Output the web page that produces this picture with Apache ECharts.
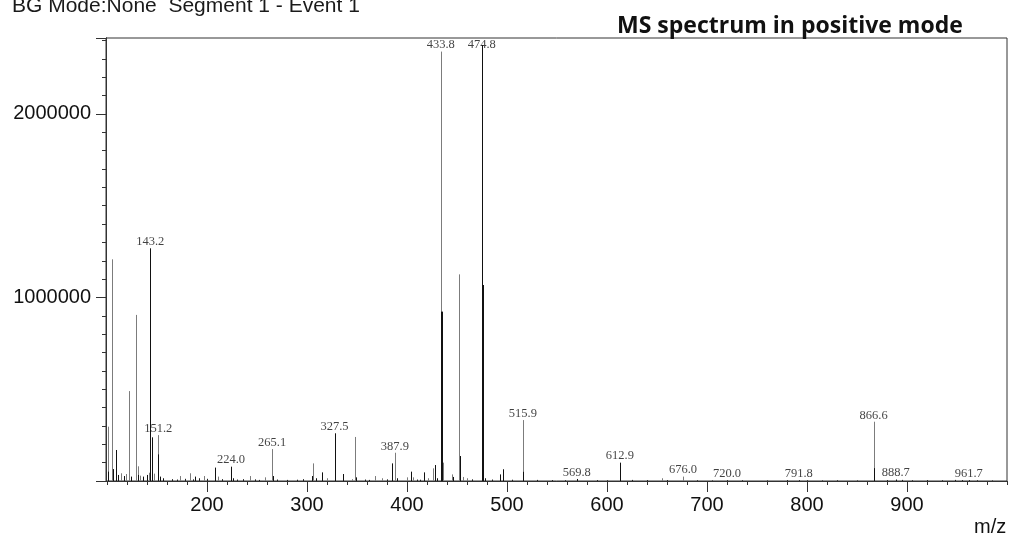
<!DOCTYPE html>
<html>
<head>
<meta charset="utf-8">
<script src="https://cdn.jsdelivr.net/npm/echarts@6/dist/echarts.min.js"></script>
<style>
html,body{margin:0;padding:0;background:#fff;}
#c{width:1013px;height:538px;}
</style>
</head>
<body>
<div id="c"></div>
<script>
// ---- data (m/z, intensity in counts) ----
const greyMz  = [100.7, 104.7, 114.3, 118.7, 122.3, 129.3, 131.3, 133.0, 142.0, 147.3, 150.7, 173.0, 183.0, 197.0, 211.3, 243.0, 258.0, 265.1, 306.3, 319.7, 345.0, 348.0, 368.0, 374.7, 387.9, 399.7, 405.7, 421.3, 426.3, 433.8, 436.3, 444.7, 452.0, 455.7, 459.7, 476.3, 515.9, 654.7, 676.0, 866.6];
const greyInt = [296000, 1208000, 42000, 38000, 490000, 905000, 80000, 29000, 45000, 40000, 250000, 27000, 42000, 27000, 24000, 27000, 20000, 174000, 96000, 15000, 10000, 240000, 27000, 15000, 154000, 20000, 20000, 15000, 69000, 2340000, 100000, 36000, 1126000, 22000, 15000, 115000, 332000, 15000, 24000, 323000];

const blackMz  = [101.3, 105.7, 109.3, 111.3, 117.0, 123.7, 130.7, 136.3, 139.7, 143.2, 144.7, 145.3, 151.3, 153.0, 156.0, 188.0, 208.0, 223.5, 226.0, 266.2, 304.7, 309.0, 315.3, 327.5, 336.3, 348.6, 385.3, 389.7, 403.7, 417.0, 428.0, 429.7, 433.8, 434.5, 446.3, 452.6, 474.8, 475.5, 478.0, 493.0, 496.3, 516.4, 569.8, 612.9, 720.0, 791.8, 867.3, 888.7, 961.7];
const blackInt = [51000, 65000, 169000, 33000, 27000, 24000, 33000, 24000, 33000, 1268000, 51000, 238000, 145000, 24000, 15000, 24000, 73000, 78000, 15000, 27000, 27000, 15000, 47000, 260000, 38000, 20000, 96000, 15000, 51000, 47000, 87000, 15000, 923000, 923000, 22000, 136000, 2376000, 1068000, 15000, 36000, 64000, 50000, 11000, 100000, 4000, 4000, 70000, 8000, 4000];

// small baseline peaks
const noiseMz  = [165, 170, 178, 186, 192, 200, 215, 230, 236, 248, 252, 270, 280, 290, 296, 358, 362, 380, 410, 413, 465, 485, 505, 530, 545, 558, 590, 600, 625, 640, 660, 690, 705, 735, 760, 780, 800, 815, 830, 850, 880, 895, 905, 920, 935, 948, 955, 970, 985];
const noiseInt = [10000, 8000, 12000, 9000, 15000, 12000, 10000, 8000, 10000, 9000, 6000, 8000, 6000, 7000, 10000, 8000, 6000, 9000, 8000, 7000, 9000, 8000, 7000, 6000, 5000, 4000, 5000, 4000, 6000, 5000, 5000, 4000, 3000, 4000, 3000, 5000, 4000, 3000, 4000, 3000, 5000, 6000, 4000, 5000, 4000, 6000, 5000, 4000, 3000];

// peak annotations: text, m/z, anchor intensity
const labelText = ['143.2', '151.2', '224.0', '265.1', '327.5', '387.9', '433.8', '474.8', '515.9', '569.8', '612.9', '676.0', '720.0', '791.8', '866.6', '888.7', '961.7'];
const labelMz   = [143.2, 151.2, 224.0, 265.1, 327.5, 387.9, 433.8, 474.8, 515.9, 569.8, 612.9, 676.0, 720.0, 791.8, 866.6, 888.7, 961.7];
const labelInt  = [1268000, 250000, 78000, 174000, 260000, 154000, 2340000, 2340000, 332000, 11000, 100000, 24000, 4000, 4000, 323000, 8000, 4000];

const yTickLabels = [1000000, 2000000];
const xTickLabels = [200, 300, 400, 500, 600, 700, 800, 900];

const X_MIN = 99, X_MAX = 1000, Y_MIN = 0, Y_MAX = 2414000;

// minor x ticks every 20 from 100 to 1000
const xMinorTicks = [];
for (let v = 100; v <= 1000; v += 20) xMinorTicks.push(v);

function zip(a, b) { return a.map((v, i) => [v, b[i]]); }

function stickRenderer(color) {
  return function (params, api) {
    const p0 = api.coord([api.value(0), 0]);
    const p1 = api.coord([api.value(0), api.value(1)]);
    const x = Math.round(p0[0]) + 0.5;
    return {
      type: 'line',
      shape: { x1: x, y1: p0[1], x2: x, y2: p1[1] },
      style: { stroke: color, lineWidth: 1 }
    };
  };
}

const chart = echarts.init(document.getElementById('c'), null, { renderer: 'canvas' });
const axisColor = '#333';

chart.setOption({
  animation: false,
  backgroundColor: '#fff',
  grid: { left: 106, right: 6, top: 38, bottom: 57, show: true, borderColor: axisColor, borderWidth: 1, containLabel: false },
  xAxis: [
    { type: 'value', min: X_MIN, max: X_MAX, position: 'bottom',
      axisLine: { show: true, onZero: false, lineStyle: { color: axisColor, width: 1 } },
      axisTick: { show: true, length: 4, customValues: xMinorTicks, lineStyle: { color: axisColor } },
      axisLabel: { show: false }, splitLine: { show: false } },
    { type: 'value', min: X_MIN, max: X_MAX, position: 'bottom',
      axisLine: { show: true, onZero: false, lineStyle: { color: axisColor, width: 1 } },
      axisTick: { show: true, length: 11, customValues: xTickLabels, lineStyle: { color: axisColor } },
      axisLabel: { show: true, margin: 14, customValues: xTickLabels, fontFamily: 'Liberation Sans', fontSize: 20, color: '#111',
        formatter: v => String(v) },
      splitLine: { show: false } }
  ],
  yAxis: [
    { type: 'value', min: Y_MIN, max: Y_MAX, interval: 100000, position: 'left',
      axisLine: { show: true, onZero: false, lineStyle: { color: axisColor, width: 1 } },
      axisTick: { show: true, length: 4, lineStyle: { color: axisColor } },
      axisLabel: { show: false }, splitLine: { show: false } },
    { type: 'value', min: Y_MIN, max: Y_MAX, interval: 1000000, position: 'left',
      axisLine: { show: true, onZero: false, lineStyle: { color: axisColor, width: 1 } },
      axisTick: { show: true, length: 10, lineStyle: { color: axisColor } },
      axisLabel: { show: true, margin: 15, fontFamily: 'Liberation Sans', fontSize: 20, color: '#111',
        formatter: v => yTickLabels.indexOf(v) >= 0 ? String(v) : '' },
      splitLine: { show: false } }
  ],
  series: [
    { type: 'custom', name: 'noise', xAxisIndex: 0, yAxisIndex: 0, silent: true, clip: true,
      renderItem: stickRenderer('#222'), data: zip(noiseMz, noiseInt), z: 2 },
    { type: 'custom', name: 'grey', xAxisIndex: 0, yAxisIndex: 0, silent: true, clip: true,
      renderItem: stickRenderer('#7c7c7c'), data: zip(greyMz, greyInt), z: 3 },
    { type: 'custom', name: 'black', xAxisIndex: 0, yAxisIndex: 0, silent: true, clip: true,
      renderItem: stickRenderer('#111'), data: zip(blackMz, blackInt), z: 4 },
    { type: 'scatter', name: 'labels', xAxisIndex: 0, yAxisIndex: 0, silent: true, symbolSize: 0, z: 5,
      data: labelMz.map((m, i) => ({ value: [m, labelInt[i]], name: labelText[i] })),
      label: { show: true, position: 'top', distance: 0, formatter: p => p.name,
        fontFamily: 'Liberation Serif', fontSize: 12.5, color: '#111' } }
  ],
  graphic: [
    { type: 'text', x: 12, y: 6, silent: true,
      style: { text: 'BG Mode:None  Segment 1 - Event 1', font: '21px "Liberation Sans"', fill: '#1a1a1a', align: 'left', verticalAlign: 'middle' } },
    { type: 'text', x: 617, y: 26, silent: true,
      style: { text: 'MS spectrum in positive mode', font: 'bold 23px "Open Sans"', fill: '#111', align: 'left', verticalAlign: 'middle' } },
    { type: 'text', x: 974, y: 527, silent: true,
      style: { text: 'm/z', font: '20px "Liberation Sans"', fill: '#111', align: 'left', verticalAlign: 'middle' } }
  ]
});
</script>
</body>
</html>
